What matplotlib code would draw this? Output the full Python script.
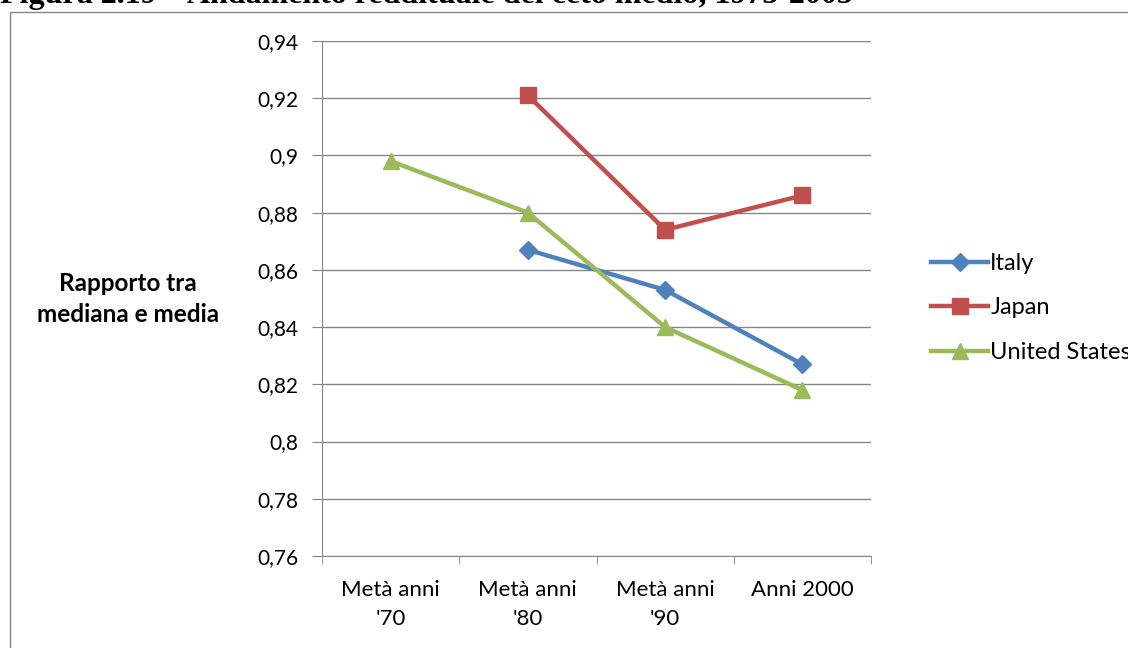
import numpy as np
import matplotlib.pyplot as plt
from matplotlib.patches import Rectangle

categories = ["Metà anni\n'70", "Metà anni\n'80", "Metà anni\n'90", "Anni 2000"]
italy = [np.nan, 0.867, 0.853, 0.827]
japan = [np.nan, 0.921, 0.874, 0.886]
usa = [0.898, 0.880, 0.840, 0.818]
yticks = [0.76, 0.78, 0.80, 0.82, 0.84, 0.86, 0.88, 0.90, 0.92, 0.94]
ylabels = ['0,76', '0,78', '0,8', '0,82', '0,84', '0,86', '0,88', '0,9', '0,92', '0,94']

plt.rcParams['font.family'] = ['Lato', 'DejaVu Sans']
W, H = 1128, 648
fig = plt.figure(figsize=(W / 100, H / 100), dpi=100)

# cornice del grafico (tagliata a destra e in basso)
fig.add_artist(Rectangle((10 / W, -0.1), 1.2, 1 - 12 / H + 0.1, transform=fig.transFigure,
                         fill=False, edgecolor='#868686', lw=1))
fig.text(0.0, 1 - 3 / H, "Figura 2.19 – Andamento reddituale del ceto medio, 1975-2005",
         family='Liberation Serif', weight='bold', fontsize=23, va='baseline', ha='left')

ax = fig.add_axes([322 / W, 1 - 556 / H, (871 - 322) / W, (556 - 41) / H])
x = np.arange(len(categories))
gc = '#868686'
ax.plot(x, italy, color='#4F81BD', lw=3.2, marker='D', ms=9, label='Italy')
ax.plot(x, japan, color='#C0504D', lw=3.2, marker='s', ms=11, label='Japan')
ax.plot(x, usa, color='#9BBB59', lw=3.2, marker='^', ms=11, label='United States')

ax.set_xlim(-0.5, 3.5)
ax.set_ylim(0.76, 0.94)
ax.set_yticks(yticks)
ax.set_yticklabels(ylabels, fontsize=15)
ax.set_xticks(x)
ax.set_xticklabels(categories, fontsize=16, linespacing=1.6)
ax.set_xticks(np.arange(-0.5, 3.6, 1), minor=True)
ax.tick_params(axis='x', which='major', length=0, pad=17)
ax.tick_params(axis='x', which='minor', length=6, color=gc)
ax.tick_params(axis='y', length=7, color=gc, pad=10)
ax.grid(axis='y', color=gc, lw=1)
ax.set_axisbelow(True)
for s in ['top', 'right']:
    ax.spines[s].set_visible(False)
for s in ['left', 'bottom']:
    ax.spines[s].set_color(gc)

fig.text(128 / W, 1 - 299 / H, "Rapporto tra\nmediana e media", ha='center', va='center',
         fontsize=17.5, weight='bold', linespacing=1.45)

fig.legend(loc='center left', bbox_to_anchor=(910 / W, 1 - 308 / H), frameon=False,
           fontsize=17, handlelength=2.4, labelspacing=1.0, handletextpad=0.1)

plt.savefig('out.png', dpi=100)
